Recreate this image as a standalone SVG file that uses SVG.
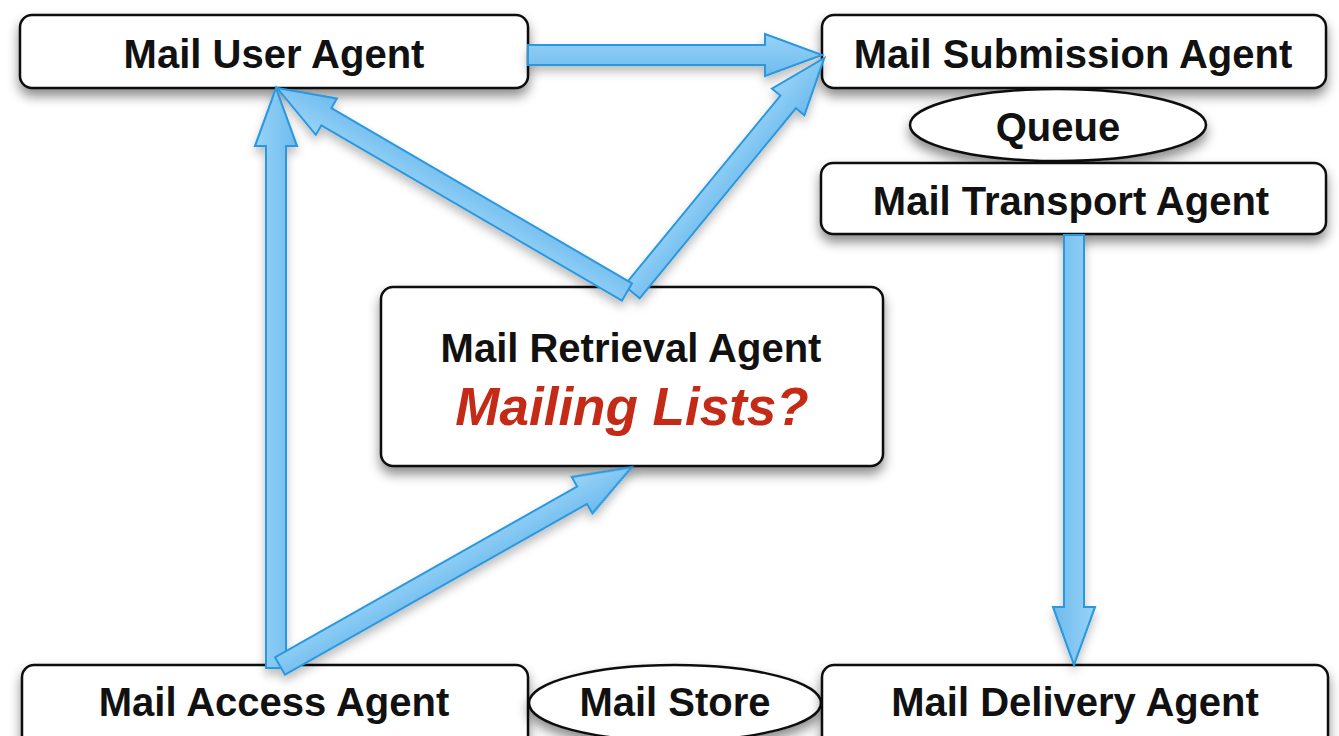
<svg xmlns="http://www.w3.org/2000/svg" width="1339" height="736" viewBox="0 0 1339 736">
<defs>
<filter id="sh" x="-20%" y="-30%" width="140%" height="180%">
<feDropShadow dx="0" dy="7" stdDeviation="6" flood-color="#000" flood-opacity="0.45"/>
</filter>
<filter id="ash" x="-20%" y="-20%" width="140%" height="140%">
<feDropShadow dx="0" dy="6" stdDeviation="5" flood-color="#000" flood-opacity="0.25"/>
</filter>
<linearGradient id="ag" x1="0" y1="0" x2="0" y2="1">
<stop offset="0" stop-color="#98d3f7"/>
<stop offset="1" stop-color="#6dbbee"/>
</linearGradient>
</defs>
<style>
.box{fill:#fff;stroke:#111;stroke-width:2.5;filter:url(#sh)}
.t{font-family:"Liberation Sans",Arial,sans-serif;font-weight:bold;font-size:40px;fill:#111;text-anchor:middle}
.r{font-family:"Liberation Sans",Arial,sans-serif;font-weight:bold;font-style:italic;font-size:53px;fill:#c42a16;text-anchor:middle}
.ar{fill:url(#ag);stroke:#2a98de;stroke-width:2;stroke-linejoin:miter}
</style>
<rect width="1339" height="736" fill="#fff"/>
<g id="mua"><rect class="box" x="20" y="15" width="508" height="73" rx="12"/><text class="t" x="274" y="68">Mail User Agent</text></g>
<g id="msa"><rect class="box" x="822" y="15" width="504" height="73" rx="12"/><text class="t" x="1073" y="68">Mail Submission Agent</text></g>
<g id="queue"><ellipse class="box" cx="1058" cy="125" rx="148" ry="36"/><text class="t" x="1058" y="141">Queue</text></g>
<g id="mta"><rect class="box" x="821" y="163" width="505" height="71" rx="12"/><text class="t" x="1071" y="215">Mail Transport Agent</text></g>
<g id="mra"><rect class="box" x="381" y="287" width="502" height="179" rx="12"/><text class="t" x="631" y="362">Mail Retrieval Agent</text><text class="r" x="632" y="425">Mailing Lists?</text></g>
<g id="maa"><rect class="box" x="22" y="665" width="506" height="90" rx="12"/><text class="t" x="274" y="716">Mail Access Agent</text></g>
<g id="store"><ellipse class="box" cx="675" cy="703" rx="146" ry="38"/><text class="t" x="675" y="716">Mail Store</text></g>
<g id="mda"><rect class="box" x="822" y="665" width="506" height="90" rx="12"/><text class="t" x="1075" y="716">Mail Delivery Agent</text></g>
<g id="connectors" filter="url(#ash)">
<path class="ar" transform="translate(528,55)" d="M0,-10 L237,-10 L237,-21 L294,0 L237,21 L237,10 L0,10 Z"/>
<path class="ar" transform="translate(632,292) rotate(-50.6)" d="M0,-10 L246,-10 L246,-21 L303,0 L246,21 L246,10 L0,10 Z"/>
<path class="ar" transform="translate(627,292) rotate(-149.76)" d="M0,-10 L348,-10 L348,-21 L405,0 L348,21 L348,10 L0,10 Z"/>
<path class="ar" transform="translate(276,668) rotate(-90)" d="M0,-10 L522,-10 L522,-21 L580,0 L522,21 L522,10 L0,10 Z"/>
<path class="ar" transform="translate(280,666) rotate(-29.48)" d="M0,-10 L347,-10 L347,-21 L404,0 L347,21 L347,10 L0,10 Z"/>
<path class="ar" transform="translate(1074,235) rotate(90)" d="M0,-10 L372,-10 L372,-21 L430,0 L372,21 L372,10 L0,10 Z"/>
</g>
</svg>
